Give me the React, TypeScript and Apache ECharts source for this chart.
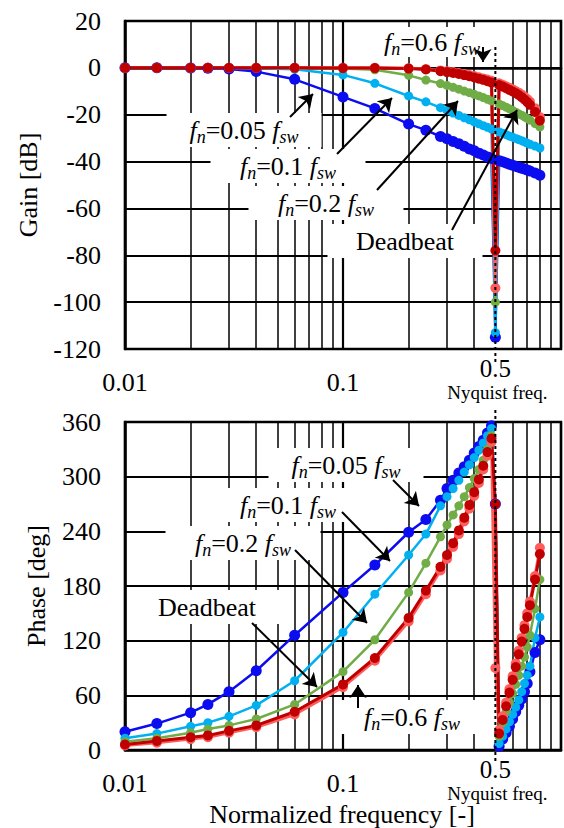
import React, { useEffect, useRef } from 'react';
import * as echarts from 'echarts';

// Normalized frequency f / f_sw of each measured point
const freq = [
  0.01, 0.014, 0.02, 0.024, 0.03, 0.04, 0.06, 0.1, 0.14, 0.2, 0.24, 0.28,
  0.3, 0.32, 0.34, 0.36, 0.38, 0.4, 0.42, 0.44, 0.46, 0.48,
  0.5,
  0.52, 0.54, 0.56, 0.58, 0.6, 0.62, 0.64, 0.66, 0.68, 0.7, 0.72, 0.76, 0.8,
];

// Gain [dB]
const gainFn005 = [
  0, 0, -0.1, -0.2, -0.5, -1.6, -4.9, -12.4, -17.3, -24.0, -26.6, -29.3,
  -30.3, -31.4, -32.4, -33.5, -34.6, -35.4, -36.4, -37.2, -38.0, -38.7,
  -115,
  -39.6, -40.1, -40.6, -41.1, -41.6, -42.0, -42.4, -42.8, -43.2, -43.6, -44.0, -44.9, -45.8,
];
const gainFn01 = [
  0, 0, 0, 0, -0.1, -0.2, -0.6, -3.0, -6.6, -12.0, -14.5, -17.0,
  -18.2, -19.3, -20.3, -21.3, -22.2, -23.1, -23.9, -24.7, -25.4, -26.1,
  -113,
  -27.3, -27.9, -28.5, -29.1, -29.6, -30.1, -30.6, -31.1, -31.6, -32.1, -32.6, -33.4, -34.2,
];
const gainFn02 = [
  0, 0, 0, 0, 0, 0, -0.1, -0.3, -0.8, -3.2, -5.2, -6.7,
  -7.5, -8.3, -9.1, -9.9, -10.6, -11.3, -12.0, -12.7, -13.4, -14.1,
  -100,
  -15.4, -16.1, -16.8, -17.5, -18.2, -18.9, -19.6, -20.2, -20.9, -21.6, -22.3, -23.8, -25.2,
];
const gainDeadbeat = [
  0, 0, 0, 0, 0, 0, 0, 0, 0, -0.2, -0.5, -1.1,
  -1.4, -1.8, -2.2, -2.6, -3.1, -3.5, -4.0, -4.5, -5.0, -5.5,
  -94,
  -6.6, -7.2, -7.9, -8.5, -9.2, -9.9, -10.6, -11.4, -12.3, -13.3, -14.4, -17.2, -21.0,
];
const gainFn06 = [
  0, 0, 0, 0, 0, 0, 0, -0.1, -0.1, -0.3, -0.7, -1.4,
  -1.8, -2.2, -2.6, -3.1, -3.6, -4.1, -4.6, -5.1, -5.7, -6.3,
  -78,
  -7.3, -8.0, -8.7, -9.4, -10.1, -10.8, -11.6, -12.5, -13.5, -14.6, -15.8, -18.8, -22.5,
];

// Phase [deg]
const phaseFn005 = [
  20, 29, 41, 50, 64, 87, 126, 173, 203, 239, 253, 274,
  287, 296, 304, 311, 318, 326, 333, 340, 348, 356,
  270,
  4, 12, 19, 26, 34, 42, 49, 56, 64, 73, 86, 107, 121,
];
const phaseFn01 = [
  13, 18, 26, 30, 37, 49, 76, 129, 171, 214, 237, 268,
  278, 287, 296, 305, 313, 321, 329, 337, 345, 353,
  270,
  7, 15, 23, 31, 39, 47, 55, 64, 73, 82, 92, 123, 146,
];
const phaseFn02 = [
  9, 13, 19, 23, 27, 34, 50, 86, 121, 173, 205, 234,
  247, 258, 268, 278, 288, 298, 308, 318, 330, 345,
  270,
  15, 30, 42, 52, 62, 72, 82, 92, 102, 113, 126, 155, 187,
];
const phaseDeadbeat = [
  5, 8, 12, 14, 19, 25, 39, 69, 98, 141, 171, 197,
  210, 223, 237, 251, 265, 279, 293, 308, 323, 338,
  90,
  22, 37, 52, 67, 81, 95, 109, 123, 137, 150, 163, 191, 222,
];
const phaseFn06 = [
  6, 10, 14, 16, 21, 27, 42, 72, 101, 145, 175, 201,
  214, 227, 241, 255, 269, 283, 297, 312, 327, 342,
  270,
  18, 33, 48, 63, 77, 91, 105, 119, 133, 146, 159, 187, 215,
];

// Axis ranges
const freqRange = [0.01, 1];
const gainRange = [-120, 20];
const gainStep = 20;
const phaseRange = [0, 360];
const phaseStep = 60;
const minorFreqs = [0.02, 0.03, 0.04, 0.05, 0.06, 0.07, 0.08, 0.09, 0.2, 0.3, 0.4, 0.6, 0.7, 0.8, 0.9];
const nyquist = 0.5;

const SERIF = 'Liberation Serif';

const curves = [
  { key: 'fn005', color: '#0c0cf0', size: 11, width: 2.5, gain: gainFn005, phase: phaseFn005 },
  { key: 'fn01', color: '#00b0f0', size: 9, width: 2.5, gain: gainFn01, phase: phaseFn01 },
  { key: 'fn02', color: '#70ad47', size: 9, width: 2.5, gain: gainFn02, phase: phaseFn02 },
  { key: 'deadbeat', color: '#ff5c5c', size: 10, width: 3, gain: gainDeadbeat, phase: phaseDeadbeat },
  { key: 'fn06', color: '#c00000', size: 10, width: 3, gain: gainFn06, phase: phaseFn06 },
];

const GRID_LEFT = 125;
const GRID_W = 436;
const GRID_H = 328;
const GRID_TOPS = [21, 422];

const richStyles = {
  i: { fontFamily: SERIF, fontStyle: 'italic', fontSize: 26, lineHeight: 32, fill: '#000' },
  t: { fontFamily: SERIF, fontSize: 26, lineHeight: 32, fill: '#000' },
  s: { fontFamily: SERIF, fontStyle: 'italic', fontSize: 18, lineHeight: 18, verticalAlign: 'bottom', fill: '#000' },
};

const fnText = (v: string) => `{i|f}{s|n}{t|=${v} }{i|f}{s|sw}`;

// Annotation callouts: text centre, white box and arrow (pixel positions)
const topNotes = [
  { text: fnText('0.6'), cx: 432, cy: 42, bw: 112, bh: 30 },
  { text: fnText('0.05'), cx: 244, cy: 130, bw: 155, bh: 34 },
  { text: fnText('0.1'), cx: 288, cy: 166, bw: 155, bh: 34 },
  { text: fnText('0.2'), cx: 326, cy: 203, bw: 155, bh: 34 },
  { text: '{t|Deadbeat}', cx: 405, cy: 241, bw: 155, bh: 34 },
];
const bottomNotes = [
  { text: fnText('0.05'), cx: 346, cy: 465, bw: 155, bh: 34 },
  { text: fnText('0.1'), cx: 288, cy: 505, bw: 155, bh: 34 },
  { text: fnText('0.2'), cx: 243, cy: 543, bw: 155, bh: 34 },
  { text: '{t|Deadbeat}', cx: 207, cy: 607, bw: 155, bh: 34 },
  { text: fnText('0.6'), cx: 412, cy: 717, bw: 155, bh: 34 },
];
const topArrows = [
  [[290, 117], [313, 94]],
  [[337, 154], [392, 98]],
  [[377, 190], [458, 101]],
  [[452, 230], [517, 110]],
  [[483, 47], [483, 62]],
];
const bottomArrows = [
  [[393, 480], [419, 506]],
  [[342, 512], [390, 561]],
  [[295, 550], [367, 623]],
  [[252, 623], [317, 687]],
  [[358, 708], [358, 685]],
];

function buildOption() {
  const grids = GRID_TOPS.map((top) => ({
    left: GRID_LEFT,
    top,
    width: GRID_W,
    height: GRID_H,
    show: true,
    borderColor: '#000',
    borderWidth: 2.5,
    backgroundColor: '#fff',
  }));

  const xAxes = [0, 1].map((g) => ({
    type: 'log',
    logBase: 10,
    gridIndex: g,
    min: freqRange[0],
    max: freqRange[1],
    axisLine: { show: true, lineStyle: { color: '#000', width: 2.5 } },
    axisTick: { show: false },
    axisLabel: {
      fontFamily: SERIF,
      fontSize: 26,
      color: '#000',
      margin: 20,
      formatter: (v: number) => (v > 0.5 ? '' : String(Number(v.toPrecision(2)))),
    },
    splitLine: { show: true, lineStyle: { color: '#000', width: 2.2 } },
  }));

  const yCommon = {
    type: 'value',
    axisLine: { show: true, lineStyle: { color: '#000', width: 2.5 } },
    axisTick: { show: false },
    axisLabel: { fontFamily: SERIF, fontSize: 26, color: '#000', margin: 24 },
    splitLine: { show: true, lineStyle: { color: '#000', width: 2 } },
  };
  const yAxes = [
    { ...yCommon, gridIndex: 0, min: gainRange[0], max: gainRange[1], interval: gainStep },
    { ...yCommon, gridIndex: 1, min: phaseRange[0], max: phaseRange[1], interval: phaseStep },
  ];

  const series: any[] = [];
  [0, 1].forEach((g) => {
    curves.forEach((c, ci) => {
      const values = g === 0 ? c.gain : c.phase;
      const s: any = {
        type: 'line',
        name: c.key,
        xAxisIndex: g,
        yAxisIndex: g,
        data: freq.map((f, i) => [f, values[i]]),
        symbol: 'circle',
        symbolSize: c.size,
        showAllSymbol: true,
        lineStyle: { color: c.color, width: c.width },
        itemStyle: { color: c.color },
        z: 3,
        silent: true,
      };
      if (ci === 0) {
        s.markLine = {
          silent: true,
          z: 1,
          symbol: ['none', 'none'],
          label: { show: false },
          lineStyle: { color: '#000', width: 1.5, type: 'solid' },
          data: minorFreqs.map((v) => ({ xAxis: v })),
        };
      }
      if (ci === curves.length - 1) {
        const arrows = g === 0 ? topArrows : bottomArrows;
        s.markLine = {
          silent: true,
          z: 5,
          symbol: ['none', 'arrow'],
          symbolSize: 13,
          label: { show: false },
          lineStyle: { color: '#000', width: 2, type: 'solid' },
          data: arrows.map(([a, b]) => [
            { x: a[0], y: a[1] },
            { x: b[0], y: b[1] },
          ]),
        };
      }
      series.push(s);
    });
  });

  return {
    animation: false,
    backgroundColor: '#fff',
    textStyle: { fontFamily: SERIF },
    grid: grids,
    xAxis: xAxes,
    yAxis: yAxes,
    series,
  };
}

function noteElements(notes: typeof topNotes) {
  const els: any[] = [];
  notes.forEach((n) => {
    els.push({
      type: 'rect',
      z: 2,
      silent: true,
      shape: { x: n.cx - n.bw / 2, y: n.cy - n.bh / 2, width: n.bw, height: n.bh },
      style: { fill: '#fff' },
    });
    els.push({
      type: 'text',
      z: 6,
      silent: true,
      x: n.cx,
      y: n.cy,
      style: {
        text: n.text,
        align: 'center',
        verticalAlign: 'middle',
        rich: richStyles,
        fontFamily: SERIF,
        fill: '#000',
      },
    });
  });
  return els;
}

export default function App() {
  const ref = useRef<HTMLDivElement>(null);

  useEffect(() => {
    if (!ref.current) return;
    const chart = echarts.init(ref.current, undefined, { renderer: 'svg' });
    chart.setOption(buildOption() as any);

    const xN = chart.convertToPixel({ xAxisIndex: 0 }, nyquist) as number;
    const plotBottoms = GRID_TOPS.map((t) => t + GRID_H);

    const graphic: any[] = [
      ...noteElements(topNotes),
      ...noteElements(bottomNotes),
      // Nyquist frequency markers
      {
        type: 'line', z: 4, silent: true,
        shape: { x1: xN, y1: 47, x2: xN, y2: plotBottoms[0] + 14 },
        style: { stroke: '#000', lineWidth: 2, lineDash: [3, 3] },
      },
      {
        type: 'line', z: 4, silent: true,
        shape: { x1: xN, y1: GRID_TOPS[1] - 12, x2: xN, y2: plotBottoms[1] + 12 },
        style: { stroke: '#000', lineWidth: 2, lineDash: [3, 3] },
      },
    ];
    plotBottoms.forEach((b) => {
      graphic.push({
        type: 'text', z: 6, silent: true, x: xN, y: b + 19,
        style: { text: '0.5', align: 'center', verticalAlign: 'middle', fontFamily: SERIF, fontSize: 25, lineHeight: 24, fill: '#000' },
      });
      graphic.push({
        type: 'text', z: 6, silent: true, x: xN + 2, y: b + 43,
        style: { text: 'Nyquist freq.', align: 'center', verticalAlign: 'middle', fontFamily: SERIF, fontSize: 19, lineHeight: 19, fill: '#000' },
      });
    });
    // Axis titles
    graphic.push({
      type: 'text', z: 6, silent: true, x: 28, y: GRID_TOPS[0] + GRID_H / 2, rotation: Math.PI / 2,
      style: { text: 'Gain [dB]', align: 'center', verticalAlign: 'middle', fontFamily: SERIF, fontSize: 26, fill: '#000' },
    });
    graphic.push({
      type: 'text', z: 6, silent: true, x: 36, y: GRID_TOPS[1] + GRID_H / 2, rotation: Math.PI / 2,
      style: { text: 'Phase [deg]', align: 'center', verticalAlign: 'middle', fontFamily: SERIF, fontSize: 26, fill: '#000' },
    });
    graphic.push({
      type: 'text', z: 6, silent: true, x: 342, y: 814,
      style: { text: 'Normalized frequency [-]', align: 'center', verticalAlign: 'middle', fontFamily: SERIF, fontSize: 26, lineHeight: 26, fill: '#000' },
    });

    chart.setOption({ graphic });

    return () => {
      chart.dispose();
    };
  }, []);

  return (
    <div
      ref={ref}
      style={{ position: 'absolute', left: 0, top: 0, width: 564, height: 828, background: '#fff' }}
    />
  );
}
